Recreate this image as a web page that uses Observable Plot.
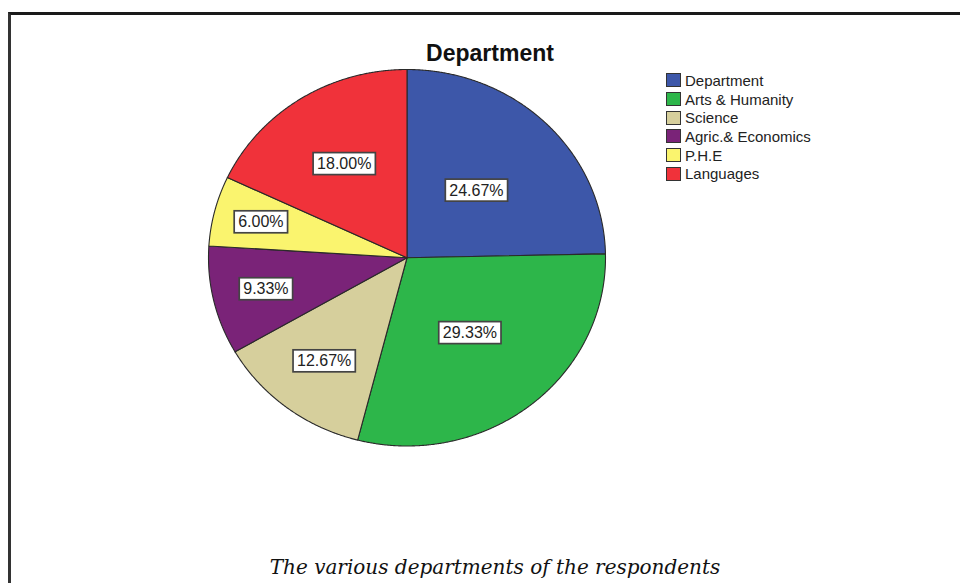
<!DOCTYPE html>
<html>
<head>
<meta charset="utf-8">
<script src="https://cdn.jsdelivr.net/npm/d3@7"></script>
<script src="https://cdn.jsdelivr.net/npm/@observablehq/plot@0.6"></script>
<style>
  html, body { margin: 0; padding: 0; background: #fff; }
  #page { position: relative; width: 960px; height: 583px; overflow: hidden; background: #fff; }
  #frame { position: absolute; left: 8px; top: 12px; width: 1000px; height: 700px;
           border-left: 3px solid #333; border-top: 3px solid #1a1a1a; box-sizing: border-box; }
  #chart { position: absolute; left: 0; top: 0; }
  #title { position: absolute; left: 390px; width: 200px; top: 40px; text-align: center;
           font: bold 23px "Liberation Sans", Arial, sans-serif; color: #111; }
  #legend { position: absolute; left: 666px; top: 71px; font: 15px "Liberation Sans", Arial, sans-serif; color: #222; }
  .lg-row { display: flex; align-items: center; height: 18.7px; }
  .lg-sw { width: 13px; height: 12px; border: 1px solid #333; margin-right: 4px; box-sizing: content-box; }
  #caption { position: absolute; left: 0; width: 990px; top: 555px; text-align: center;
             font: italic 20px "DejaVu Serif", serif; color: #111; }
</style>
</head>
<body>
<div id="page">
  <div id="frame"></div>
  <div id="chart"></div>
  <div id="title"></div>
  <div id="legend"></div>
  <div id="caption"></div>
</div>
<script>
// ---- data ----
const chartTitle = "Department";
const categories = ["Department", "Arts & Humanity", "Science", "Agric.& Economics", "P.H.E", "Languages"];
const percents = [24.67, 29.33, 12.67, 9.33, 6.00, 18.00];
const captionText = "The various departments of the respondents";

// ---- style ----
const colors = ["#3D57A9", "#2DB64A", "#D6CF9C", "#7A2378", "#FAF46E", "#F0323A"];
const labelRadius = [0.50, 0.51, 0.69, 0.73, 0.76, 0.59];

// ---- geometry from data ----
const arcs = d3.pie().sort(null).value(d => d)(percents);
const slicePts = [];
arcs.forEach((a, i) => {
  const cat = categories[i];
  slicePts.push({cat, x: 0, y: 0});
  const n = Math.max(2, Math.ceil((a.endAngle - a.startAngle) / 0.005));
  for (let k = 0; k <= n; k++) {
    const t = a.startAngle + (a.endAngle - a.startAngle) * k / n;
    slicePts.push({cat, x: Math.sin(t), y: Math.cos(t)});
  }
});
const labelData = arcs.map((a, i) => {
  const m = (a.startAngle + a.endAngle) / 2;
  return {cat: categories[i], text: percents[i].toFixed(2) + "%",
          x: labelRadius[i] * Math.sin(m), y: labelRadius[i] * Math.cos(m)};
});

const chart = Plot.plot({
  width: 960,
  height: 583,
  margin: 0,
  x: {domain: [-1, 1], range: [208, 605], axis: null},
  y: {domain: [-1, 1], range: [445.5, 69], axis: null},
  color: {domain: categories, range: colors},
  style: {background: "transparent", overflow: "visible"},
  marks: [
    Plot.line(slicePts, {x: "x", y: "y", z: "cat", fill: "cat", stroke: "#2a2a2a",
                         strokeWidth: 1.1, curve: "linear-closed", strokeLinejoin: "round"}),
    Plot.text(labelData, {x: "x", y: "y", text: "text", className: "pct-label",
                          fontSize: 16, fill: "#222",
                          fontFamily: "'Liberation Sans', Arial, sans-serif"})
  ]
});
document.getElementById("chart").appendChild(chart);

// white boxes behind percentage labels
chart.querySelectorAll("g.pct-label text").forEach(t => {
  const b = t.getBBox();
  const padX = 4, padY = 3;
  const r = document.createElementNS("http://www.w3.org/2000/svg", "rect");
  r.setAttribute("x", b.x - padX);
  r.setAttribute("y", b.y - padY + 0.5);
  r.setAttribute("width", b.width + 2 * padX);
  r.setAttribute("height", b.height + 2 * padY - 1);
  r.setAttribute("fill", "#fff");
  r.setAttribute("stroke", "#444");
  r.setAttribute("stroke-width", "1.7");
  const tr = t.getAttribute("transform");
  if (tr) r.setAttribute("transform", tr);
  t.parentNode.insertBefore(r, t);
});

document.getElementById("title").textContent = chartTitle;
document.getElementById("caption").textContent = captionText;
const legend = document.getElementById("legend");
categories.forEach((c, i) => {
  const row = document.createElement("div");
  row.className = "lg-row";
  const sw = document.createElement("div");
  sw.className = "lg-sw";
  sw.style.background = colors[i];
  const lab = document.createElement("span");
  lab.textContent = c;
  row.appendChild(sw);
  row.appendChild(lab);
  legend.appendChild(row);
});
</script>
</body>
</html>
